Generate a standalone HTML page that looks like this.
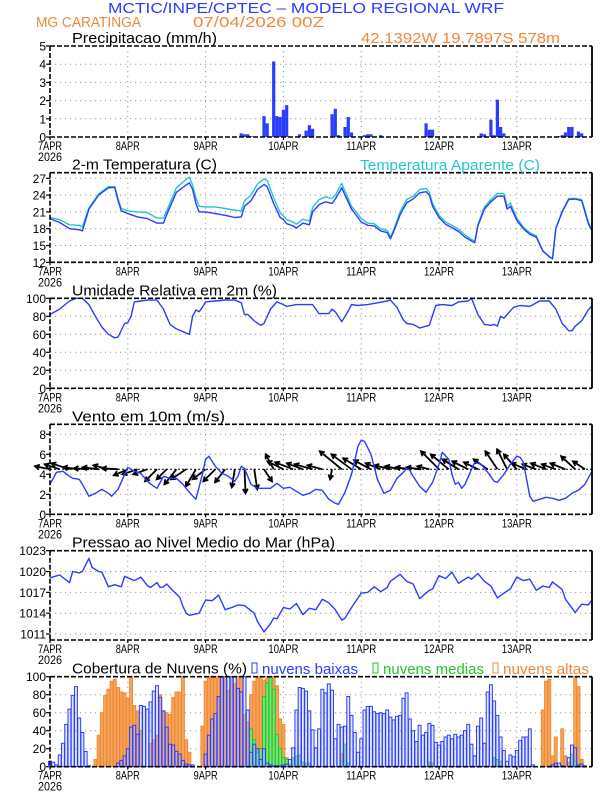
<!DOCTYPE html>
<html><head><meta charset="utf-8"><style>
html,body{margin:0;padding:0;background:#fff}
svg{display:block}
text{font-family:"Liberation Sans",sans-serif}
</style></head><body>
<svg id="chart" width="612" height="792" viewBox="0 0 612 792" xmlns="http://www.w3.org/2000/svg">
<rect x="0" y="0" width="612" height="792" fill="#fff"/>
<text x="108" y="13" font-size="15" fill="#2a3cff" textLength="396" lengthAdjust="spacingAndGlyphs">MCTIC/INPE/CPTEC – MODELO REGIONAL WRF</text>
<text x="36" y="27" font-size="15" fill="#f0883a" textLength="105" lengthAdjust="spacingAndGlyphs">MG CARATINGA</text>
<text x="193" y="27" font-size="15" fill="#f0883a" textLength="131" lengthAdjust="spacingAndGlyphs">07/04/2026 00Z</text>
<text x="361" y="43" font-size="15" fill="#f0883a" textLength="199" lengthAdjust="spacingAndGlyphs">42.1392W 19.7897S 578m</text>
<g id="layer"></g>
</svg>
<script>
// ---------- data ----------
const dayLabels=["7APR","8APR","9APR","10APR","11APR","12APR","13APR"];
const precipHours=[59,60,61,62,66,67,69,70,71,72,73,77,79,80,81,87,88,89,91,92,93,97,98,99,102,116,117,118,133,134,136,137,138,139,140,157,158,159,160,161,163,164];
const precipValues=[0.2,0.15,0.15,0.05,1.15,0.75,4.15,1.15,1.1,1.5,1.75,0.15,0.35,0.65,0.45,1.25,1.55,0.1,0.55,1.1,0.25,0.1,0.15,0.15,0.1,0.75,0.4,0.4,0.2,0.15,0.95,0.1,2.05,0.55,0.2,0.05,0.1,0.25,0.55,0.55,0.3,0.2];
const tempHours=[0,3,6,9,10,12,15,18,20,21,22,24,27,30,33,35,36,39,42,43,44,45,46,48,51,54,57,59,60,62,64,66,67,69,71,72,73,75,76,78,80,81,83,85,87,88,90,91,93,95,96,98,100,102,104,105,106,108,110,112,114,116,117,118,120,122,124,126,128,130,131,132,134,136,138,140,141,142,144,146,148,150,152,154,155,156,158,160,162,164,166,167];
const tempValues=[19.8,19.1,18.0,17.8,17.6,21.5,24.0,25.3,25.4,23.0,21.2,20.7,20.1,19.8,19.0,19.0,20.5,24.5,25.8,26.2,25.0,22.5,21.0,21.0,20.7,20.4,20.0,20.1,22.0,23.0,25.0,25.9,25.5,22.5,20.0,19.6,18.9,18.5,18.1,19.0,18.7,21.0,22.3,22.8,22.5,23.3,25.3,24.0,21.5,20.0,19.2,18.6,18.5,17.6,17.3,16.2,17.5,20.5,22.6,23.3,24.4,24.6,24.0,22.0,20.0,18.8,18.2,17.5,16.5,15.8,15.5,18.5,21.5,22.8,23.8,23.8,21.5,22.0,19.5,18.0,17.0,16.5,14.0,13.0,12.6,18.0,21.0,23.2,23.3,23.0,19.0,17.8];
const apparentValues=[20.0,19.6,18.7,18.6,18.3,21.7,24.2,25.5,25.5,23.3,21.6,21.2,21.0,20.9,19.9,19.9,21.2,25.3,26.8,27.2,25.8,23.5,22.0,21.9,21.9,21.6,21.3,21.2,23.0,24.0,26.0,26.9,26.6,23.5,20.8,20.3,19.6,19.2,18.8,19.7,19.4,21.8,23.2,23.7,23.4,24.0,26.1,24.7,22.0,20.6,19.8,19.0,18.9,18.0,17.7,16.5,17.8,21.0,23.2,23.8,25.0,25.2,24.5,22.5,20.4,19.2,18.6,17.9,16.9,16.1,15.7,18.7,21.9,23.2,24.3,24.3,22.0,22.6,19.9,18.3,17.3,16.7,14.1,13.0,12.7,18.1,21.1,23.4,23.4,23.2,19.3,17.9];
const rhHours=[0,3,6,8,10,12,14,16,18,20,21,23,24,25,26,28,30,33,35,37,39,41,43,44,45,46,47,48,51,54,57,59,60,61,63,65,66,68,70,72,73,76,79,81,83,86,87,88,90,92,93,95,98,101,104,105,107,109,110,112,114,116,117,119,121,124,126,129,130,132,134,136,137,138,139,140,141,143,145,148,151,154,156,158,160,161,162,164,166,167];
const rhValues=[82,88,97,100,100,93,80,68,60,56,57,72,73,80,96,97,98,98,88,71,66,63,60,80,87,85,90,96,97,98,98,95,82,82,75,70,72,88,96,93,91,93,93,93,83,83,88,85,74,86,93,92,93,95,97,98,90,76,72,71,67,69,70,92,93,92,96,97,100,82,71,70,71,69,80,78,82,90,92,91,97,97,88,72,64,64,69,75,87,91];
const windHours=[0,2,4,6,7,9,10,12,14,16,18,19,21,23,24,26,28,30,32,33,35,37,39,41,43,45,47,48,49,51,53,55,57,58,59,60,62,64,66,68,70,72,74,76,78,80,82,84,86,88,89,91,93,95,96,97,99,101,103,105,107,109,110,111,112,114,116,118,120,121,123,124,125,126,127,128,130,131,133,135,137,138,140,142,144,145,146,147,148,149,151,153,155,157,159,161,163,165,167];
const windSpeed=[3.0,4.2,4.3,3.8,3.6,3.5,3.0,1.8,2.1,2.5,2.1,1.8,2.5,4.0,4.7,4.3,4.1,3.3,2.8,2.6,3.8,3.6,3.6,3.0,2.2,1.5,4.0,5.5,5.8,4.8,4.1,3.8,3.3,3.8,4.8,4.6,3.0,2.6,2.6,2.6,3.1,2.6,2.7,2.3,1.9,2.1,2.5,2.4,1.5,1.1,1.0,2.2,4.0,6.8,7.4,7.3,6.0,3.5,2.1,2.4,3.6,4.2,4.6,4.4,3.8,2.8,2.2,3.2,5.0,6.2,5.5,4.0,3.0,3.2,2.6,3.0,4.5,5.2,5.0,4.2,3.3,3.2,4.0,5.0,5.8,5.7,5.2,3.5,1.8,1.3,1.5,1.7,1.6,1.4,1.6,2.1,2.4,3.0,4.2];
const arrowHours=[0,3,6,9,12,15,18,21,24,27,30,33,36,39,42,45,48,51,54,57,60,63,66,69,72,75,78,81,84,87,90,93,96,99,102,105,108,111,114,117,120,123,126,129,132,135,138,141,144,147,150,153,156,159,162,165];
const windU=[-1.5,-1.5,-1.8,-1.6,-1.5,-1.6,-1.5,-1.6,-1.4,-1.5,-1.4,-1.2,-1.0,-1.2,-1.5,-1.0,-1.3,-1.2,-1.0,-0.3,0.1,0.3,0.8,-0.8,-1.6,-1.8,-1.6,-1.8,-1.5,-0.2,-2.2,-2.0,-1.8,-1.7,-1.5,-1.6,-1.5,-1.4,-1.3,-1.2,-1.8,-1.8,-1.6,-1.6,-1.4,-1.4,-1.2,-1.0,-1.3,-1.5,-1.4,-1.5,-1.4,-1.5,-1.4,-1.2];
const windV=[0.3,0.5,0.6,0.2,0.1,0.2,0.4,0.1,-0.6,-0.5,-0.5,-1.2,-1.0,-1.5,-1.0,-1.7,-1.0,-1.2,-1.3,-1.8,-2.4,-2.0,-1.2,1.5,0.8,0.7,0.6,0.5,0.4,-1.0,1.8,1.5,1.1,0.9,0.6,0.4,0.3,0.2,0.2,0.3,1.8,1.5,1.0,0.8,0.7,1.0,1.8,2.0,1.5,0.6,0.5,0.6,0.5,0.6,1.3,0.8];
const pressHours=[0,3,6,7,9,10,12,13,15,16,17,18,20,22,23,26,28,30,31,33,34,35,36,38,40,41,42,43,46,48,50,52,54,56,58,60,63,64,66,68,69,70,72,74,76,78,80,82,84,86,88,90,91,93,96,98,100,102,104,105,108,110,112,114,117,118,120,122,124,126,129,130,132,134,136,138,140,142,144,146,148,150,152,154,155,158,159,162,164,166,167];
const pressValues=[1019.1,1019.5,1018.4,1020.0,1019.8,1020.0,1021.9,1020.6,1020.0,1019.9,1018.9,1017.8,1018.1,1017.8,1019.3,1018.7,1019.2,1018.0,1017.7,1018.4,1017.7,1017.8,1018.2,1017.2,1016.3,1015.0,1014.0,1013.7,1014.0,1015.9,1015.8,1016.6,1014.5,1014.8,1015.2,1015.1,1014.0,1012.8,1011.3,1012.5,1013.3,1013.2,1014.8,1014.6,1015.4,1013.8,1014.7,1014.5,1016.0,1015.5,1014.5,1013.0,1013.3,1014.8,1016.9,1017.0,1017.8,1017.1,1017.7,1018.6,1019.6,1018.6,1018.2,1016.1,1017.3,1017.5,1019.4,1019.0,1019.9,1018.3,1019.2,1018.9,1019.7,1018.6,1017.9,1016.2,1016.9,1017.5,1019.2,1018.7,1018.9,1017.3,1017.9,1017.7,1018.5,1017.4,1016.0,1014.1,1015.3,1015.2,1015.8];
const cloudLow=[6,5,2,13,26,47,64,79,89,54, 38,17,1,0,0,0,0,0,0,0, 0,4,7,12,20,44,46,36,68,67, 64,72,84,90,77,62,44,25,24,17, 14,7,3,2,2,0,0,0,14,35, 53,59,78,100,100,100,100,100,87,83, 100,63,16,25,20,8,20,4,2,1, 1,1,2,3,8,21,63,88,87,84, 62,41,21,42,86,82,92,85,31,47, 44,45,78,57,38,16,31,63,67,67, 61,59,60,59,63,55,52,56,57,76, 82,53,40,28,46,35,38,48,46,27, 24,28,33,35,31,36,33,35,40,47, 25,12,45,54,26,83,91,73,57,33, 18,6,13,11,18,29,33,33,42,2, 0,0,0,0,0,2,4,4,1,0, 10,24,21,2,3,1,0,0];
const cloudMid=[0,0,0,0,0,0,0,0,0,0, 0,0,0,0,0,0,0,0,0,0, 0,0,0,0,0,0,0,0,0,0, 0,0,0,0,0,0,0,0,0,0, 0,0,0,0,0,0,0,0,0,0, 0,0,0,0,0,0,0,0,0,0, 0,4,42,30,16,20,78,93,100,86, 36,20,10,8,3,10,12,13,5,4, 4,0,0,0,0,0,0,0,0,0, 6,25,4,0,0,0,0,0,0,0, 0,0,0,0,0,0,0,0,0,0, 0,0,0,0,0,0,0,5,4,0, 0,0,0,0,0,0,0,0,0,0, 0,0,0,0,0,0,0,10,8,6, 0,0,0,0,0,0,0,0,0,0, 0,0,0,0,0,0,0,0,0,0, 0,14,6,0,0,0,0,0];
const cloudHigh=[0,0,0,0,0,0,0,0,0,0, 0,0,0,0,8,35,60,79,86,95, 97,88,83,82,76,100,68,62,40,0, 0,26,30,35,80,62,60,58,77,83, 83,100,30,16,0,0,0,45,95,100, 100,100,100,100,100,85,100,92,100,100, 58,50,80,95,100,100,96,100,100,100, 90,53,47,10,0,0,0,0,0,0, 0,0,0,0,0,0,0,0,0,0, 15,20,0,0,0,0,0,0,0,0, 0,0,0,0,0,0,0,0,0,0, 0,0,0,0,0,0,0,0,0,0, 0,0,0,0,0,0,0,0,0,0, 0,0,0,0,0,0,0,0,0,0, 0,0,0,0,0,0,0,0,0,0, 0,0,63,95,97,12,33,0,42,12, 5,0,100,89,8,0,0,0];
const precipTicks=[0,1,2,3,4,5];
const tempTicks=[12,15,18,21,24,27];
const rhTicks=[0,20,40,60,80,100];
const windTicks=[0,2,4,6,8];
const pressTicks=[1011,1014,1017,1020,1023];
const cloudTicks=[0,20,40,60,80,100];

// ---------- drawing ----------
const NS="http://www.w3.org/2000/svg";
const layer=document.getElementById('layer');
const X0=50, PXH=3.242, XR=592;
function xOf(h){return X0+h*PXH;}
function mk(tag,attrs,parent){const e=document.createElementNS(NS,tag);for(const k in attrs)e.setAttribute(k,attrs[k]);(parent||layer).appendChild(e);return e;}
function yScale(p){return v=>p.bot-(v-p.min)/(p.max-p.min)*(p.bot-p.top);}

function panel(p,name,title,ticks){
  const g=mk('g',{});
  
  
  const ys=yScale(p);
  for(let d=1;d<7;d++){
    const l=mk('line',{x1:xOf(d*24),x2:xOf(d*24),y1:p.top,y2:p.bot,stroke:'#999','stroke-width':1,'stroke-dasharray':'1.2,3.8'},g);
    
    
  }
  ticks.forEach(t=>{
    const y=ys(t);
    if(y>p.top+1&&y<p.bot-1){
      const l=mk('line',{x1:X0,x2:XR,y1:y,y2:y,stroke:'#999','stroke-width':1,'stroke-dasharray':'1.2,3.8'},g);
      
      
    }
    mk('line',{x1:X0-4,x2:X0,y1:y,y2:y,stroke:'#000','stroke-width':1.2},g);
    const tx=mk('text',{x:X0-4,y:y+4.5,'font-size':12,'text-anchor':'end',fill:'#000'},g);
    tx.textContent=String(t);
    
    
  });
  for(let d=0;d<7;d++){
    const x=xOf(d*24);
    mk('line',{x1:x,x2:x,y1:p.bot,y2:p.bot+3,stroke:'#000','stroke-width':1.2},g);
    const tx=mk('text',{x:x,y:p.bot+13,'font-size':11.5,'text-anchor':'middle',fill:'#000',textLength:dayLabels[d].length*6,lengthAdjust:'spacingAndGlyphs'},g);
    tx.textContent=dayLabels[d];
    
    
  }
  const yr=mk('text',{x:X0,y:p.bot+24,'font-size':11.5,'text-anchor':'middle',fill:'#000',textLength:24,lengthAdjust:'spacingAndGlyphs'},g);
  yr.textContent='2026';
  
  
  if(title){
    const tt=mk('text',{x:72,y:p.top-3,'font-size':15,fill:'#000',textLength:title[1],lengthAdjust:'spacingAndGlyphs'},g);
    tt.textContent=title[0];
    
    
  }
  return {g,ys};
}
function frame(p,g){
  const f=mk('g',{},g);
  
  
  const da={stroke:'#000','stroke-width':1.6,'stroke-dasharray':'5,2'};
  mk('line',Object.assign({x1:X0,x2:XR,y1:p.top,y2:p.top},da),f);
  mk('line',Object.assign({x1:X0,x2:XR,y1:p.bot,y2:p.bot},da),f);
  mk('line',Object.assign({x1:X0,x2:X0,y1:p.top,y2:p.bot},da),f);
  mk('line',{x1:XR,x2:XR,y1:p.top,y2:p.bot,stroke:'#000','stroke-width':1.8},f);
}
function line(hours,vals,ys,color,g,name){
  const d=hours.map((h,i)=>(i?'L':'M')+xOf(h).toFixed(1)+','+ys(vals[i]).toFixed(1)).join('');
  const pth=mk('path',{d:d,fill:'none',stroke:color,'stroke-width':1.4,'stroke-linejoin':'round'},g);
  
  
}

// Panel 1: precipitation
const P1={top:46,bot:137,min:0,max:5};
let r=panel(P1,'precip',['Precipitacao (mm/h)',145],precipTicks);
precipHours.forEach((h,i)=>{
  const y=r.ys(precipValues[i]);
  const b=mk('rect',{x:xOf(h)-1.6,y:y,width:3.2,height:P1.bot-y,fill:'#2a3cff'},r.g);
  
  
});
frame(P1,r.g);

// Panel 2: temperature
const P2={top:172.7,bot:262.3,min:12,max:28};
r=panel(P2,'temperature',['2-m Temperatura (C)',145],tempTicks);
line(tempHours,apparentValues,r.ys,'#22c8c8',r.g,'apparent-temperature-line');
line(tempHours,tempValues,r.ys,'#2a3cff',r.g,'temperature-line');
frame(P2,r.g);
const at=mk('text',{x:360,y:170,'font-size':15,fill:'#22c8c8',textLength:180,lengthAdjust:'spacingAndGlyphs'},r.g);
at.textContent='Temperatura Aparente (C)';



// Panel 3: RH
const P3={top:298.3,bot:388.3,min:0,max:100};
r=panel(P3,'humidity',['Umidade Relativa em 2m (%)',205],rhTicks);
line(rhHours,rhValues,r.ys,'#2a3cff',r.g,'humidity-line');
frame(P3,r.g);

// Panel 4: wind
const P4={top:424.3,bot:514.3,min:0,max:9};
r=panel(P4,'wind',['Vento em 10m (m/s)',153],windTicks);
const base=r.ys(4.5);
const AS=10;
arrowHours.forEach((h,i)=>{
  const x=xOf(h), u=windU[i]*AS, v=-windV[i]*AS;
  const len=Math.hypot(u,v)||1, ux=u/len, uy=v/len;
  const tx=x+u, ty=base+v;
  const hl=4.5;
  const ax=tx-ux*hl, ay=ty-uy*hl;
  const d=`M${x},${base}L${tx},${ty}M${ax+uy*2.5},${ay-ux*2.5}L${tx},${ty}L${ax-uy*2.5},${ay+ux*2.5}`;
  const a=mk('path',{d:d,stroke:'#000','stroke-width':1.8,fill:'none'},r.g);
  
  
});
mk('line',{x1:X0,x2:XR,y1:base,y2:base,stroke:'#000','stroke-width':1,'stroke-dasharray':'2,2'},r.g);
line(windHours,windSpeed,r.ys,'#2a3cff',r.g,'wind-speed-line');
frame(P4,r.g);

// Panel 5: pressure
const P5={top:550.7,bot:640,min:1010.14,max:1023};
r=panel(P5,'pressure',['Pressao ao Nivel Medio do Mar (hPa)',263],pressTicks);
line(pressHours,pressValues,r.ys,'#2a3cff',r.g,'pressure-line');
frame(P5,r.g);

// Panel 6: clouds
const P6={top:676.7,bot:766.7,min:0,max:100};
r=panel(P6,'clouds',['Cobertura de Nuvens (%)',175],cloudTicks);
function bars(vals,fill,stroke,name){
  vals.forEach((v,h)=>{
    if(v<=0)return;
    const y=r.ys(v);
    const b=mk('rect',{x:xOf(h)-1.45,y:y,width:2.9,height:P6.bot-y,fill:fill,stroke:stroke,'stroke-width':1},r.g);
    
    
  });
}
bars(cloudHigh,'#f4a460','#f08a30','high-cloud-bar');
bars(cloudMid,'#7fe07f','#22c822','mid-cloud-bar');
bars(cloudLow,'rgba(170,185,255,0.35)','#2a3cff','low-cloud-bar');
frame(P6,r.g);
const leg=[['nuvens baixas',252,'#2a3cff',96],['nuvens medias',373,'#22c822',101],['nuvens altas',493,'#f0883a',86]];
leg.forEach(L=>{
  const lg=mk('g',{},r.g);
  
  
  mk('rect',{x:L[1],y:663,width:5,height:10,fill:'none',stroke:L[2],'stroke-width':1},lg);
  const t=mk('text',{x:L[1]+10,y:674,'font-size':15,fill:L[2],textLength:L[3],lengthAdjust:'spacingAndGlyphs'},lg);
  t.textContent=L[0];
});
</script>
</body></html>
